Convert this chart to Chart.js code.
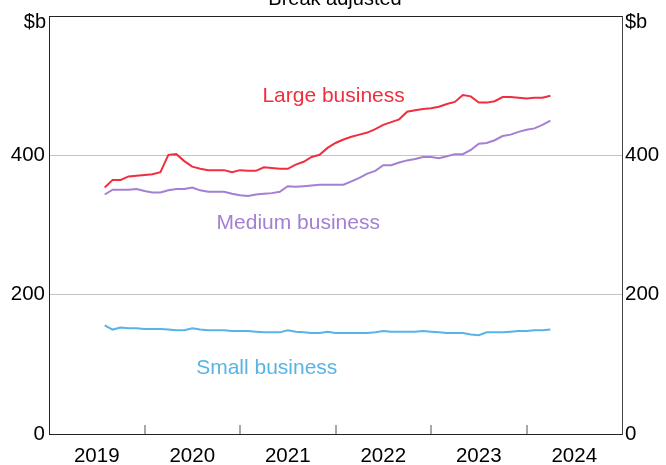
<!DOCTYPE html>
<html>
<head>
<meta charset="utf-8">
<script src="https://cdn.jsdelivr.net/npm/chart.js@4.4.0/dist/chart.umd.min.js"></script>
<style>
  html, body { margin: 0; padding: 0; background: #fff; }
</style>
</head>
<body>
<canvas id="myChart" width="666" height="465"></canvas>
<script>
// monthly, Aug 2019 .. Apr 2024 ($b)
const startYear = 2019, startMonth = 7; // 0 = Jan
const large = [354, 365, 365, 370, 371, 372, 373, 376, 401, 402, 392, 384, 381, 379, 379, 379, 376,
  379, 378, 378, 383, 382, 381, 381, 387, 391, 398, 401, 411, 418, 423, 427, 430, 433, 438, 444, 448,
  452, 463, 465, 467, 468, 470, 474, 477, 487, 485, 476, 476, 478, 484, 484, 483, 482, 483, 483, 486];
const medium = [344, 351, 351, 351, 352, 349, 347, 347, 350, 352, 352, 354, 350, 348, 348, 348, 345,
  343, 342, 344, 345, 346, 348, 356, 355, 356, 357, 358, 358, 358, 358, 363, 368, 374, 378, 386, 386,
  390, 393, 395, 398, 398, 396, 399, 402, 402, 408, 417, 418, 422, 428, 430, 434, 437, 439, 444, 450];
const small = [156, 150, 153, 152, 152, 151, 151, 151, 150, 149, 149, 152, 150, 149, 149, 149, 148,
  148, 148, 147, 146, 146, 146, 149, 147, 146, 145, 145, 147, 145, 145, 145, 145, 145, 146, 148, 147,
  147, 147, 147, 148, 147, 146, 145, 145, 145, 143, 142, 146, 146, 146, 147, 148, 148, 149, 149, 150];
const yearLabels = [2019, 2020, 2021, 2022, 2023, 2024];
const yTicks = [0, 200, 400, 600];

const dates = large.map((v, i) => startYear + (startMonth + i) / 12);
const pts = arr => arr.map((v, i) => ({x: dates[i], y: v}));

const RED = '#ef2f3f', PURPLE = '#a47fd3', BLUE = '#58b3e6';
const FONT = "'Liberation Sans', Arial, sans-serif";

const extras = {
  id: 'extras',
  afterDraw(chart) {
    const ctx = chart.ctx, x = chart.scales.x, y = chart.scales.y, area = chart.chartArea;
    ctx.save();
    // year tick marks inside the plot
    ctx.strokeStyle = '#8a8a8a';
    ctx.lineWidth = 1.5;
    for (let i = 1; i < yearLabels.length; i++) {
      const px = Math.round(x.getPixelForValue(yearLabels[i]));
      ctx.beginPath();
      ctx.moveTo(px, area.bottom);
      ctx.lineTo(px, area.bottom - 9);
      ctx.stroke();
    }
    ctx.font = '20px ' + FONT;
    ctx.fillStyle = '#000';
    // units
    ctx.textBaseline = 'middle';
    ctx.textAlign = 'right';
    ctx.fillText('$b', area.left - 3, 22);
    ctx.textAlign = 'left';
    ctx.fillText('$b', area.right + 3, 22);
    // clipped title
    ctx.textAlign = 'center';
    ctx.textBaseline = 'alphabetic';
    ctx.fillText('Break adjusted', 335, 5);
    // series labels
    ctx.font = '21px ' + FONT;
    ctx.textBaseline = 'middle';
    ctx.fillStyle = RED;
    ctx.fillText('Large business', x.getPixelForValue(2021.98), y.getPixelForValue(485));
    ctx.fillStyle = PURPLE;
    ctx.fillText('Medium business', x.getPixelForValue(2021.61), y.getPixelForValue(303));
    ctx.fillStyle = BLUE;
    ctx.fillText('Small business', x.getPixelForValue(2021.28), y.getPixelForValue(94));
    ctx.restore();
  }
};

const tickFont = {family: FONT, size: 20.5};

new Chart(document.getElementById('myChart'), {
  type: 'line',
  data: {
    datasets: [
      {label: 'Large business', data: pts(large), borderColor: RED, borderWidth: 2, pointRadius: 0, fill: false},
      {label: 'Medium business', data: pts(medium), borderColor: PURPLE, borderWidth: 2, pointRadius: 0, fill: false},
      {label: 'Small business', data: pts(small), borderColor: BLUE, borderWidth: 2, pointRadius: 0, fill: false}
    ]
  },
  options: {
    responsive: false,
    animation: false,
    layout: {padding: {top: 12, left: 0, right: 0, bottom: 0}},
    plugins: {legend: {display: false}, tooltip: {enabled: false}, title: {display: false}},
    scales: {
      x: {
        type: 'linear', min: 2019, max: 2025,
        afterBuildTicks: s => { s.ticks = yearLabels.map(v => ({value: v + 0.5})); },
        ticks: {callback: v => String(Math.floor(v)), font: tickFont, color: '#000', padding: 10,
          maxRotation: 0, autoSkip: false},
        grid: {display: false, drawTicks: false},
        border: {display: true, color: '#222', width: 1},
        afterFit: s => { s.height = 31; }
      },
      y: {
        position: 'left', min: 0, max: 600,
        afterBuildTicks: s => { s.ticks = yTicks.map(v => ({value: v})); },
        ticks: {callback: v => v === 600 ? '' : String(v), font: tickFont, color: '#000', padding: 4},
        grid: {drawTicks: false, lineWidth: 1,
          color: c => c.tick.value === 600 ? '#222' : (c.tick.value === 0 ? 'rgba(0,0,0,0)' : '#c4c4c4')},
        border: {display: true, color: '#222', width: 1},
        afterFit: s => { s.width = 49; }
      },
      y2: {
        position: 'right', min: 0, max: 600,
        afterBuildTicks: s => { s.ticks = yTicks.map(v => ({value: v})); },
        ticks: {callback: v => v === 600 ? '' : String(v), font: tickFont, color: '#000', padding: 3},
        grid: {display: false, drawTicks: false},
        border: {display: true, color: '#444', width: 1},
        afterFit: s => { s.width = 44; }
      }
    }
  },
  plugins: [extras]
});
</script>
</body>
</html>
